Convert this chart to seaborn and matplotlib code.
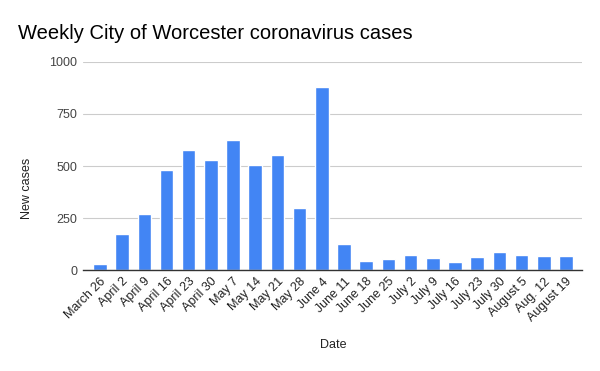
import matplotlib
matplotlib.use("Agg")
import matplotlib.pyplot as plt
import seaborn as sns
import pandas as pd

# ── Data ──────────────────────────────────────────────────────────────────────
dates = ["March 26", "April 2", "April 9", "April 16", "April 23", "April 30",
         "May 7", "May 14", "May 21", "May 28", "June 4", "June 11",
         "June 18", "June 25", "July 2", "July 9", "July 16", "July 23",
         "July 30", "August 5", "Aug. 12", "August 19"]
new_cases = [30, 175, 271, 482, 578, 530, 626, 506, 554, 300, 880, 127,
             45, 54, 74, 59, 40, 64, 88, 74, 69, 69]
y_ticks = [0, 250, 500, 750, 1000]

BLUE = "#4285f4"
GRID = "#cccccc"
TXT = "#444444"

df = pd.DataFrame({"Date": dates, "New cases": new_cases})

sns.set_style("white")
plt.rcParams["font.family"] = ["Liberation Sans", "DejaVu Sans"]

fig = plt.figure(figsize=(6, 3.71), dpi=100, facecolor="white")
ax = fig.add_axes([0.138, 0.272, 0.832, 0.561])

sns.barplot(data=df, x="Date", y="New cases", color=BLUE, width=0.61,
            saturation=1, ax=ax, zorder=3)

ax.set_xlim(-0.77, len(dates) - 0.28)
ax.set_ylim(0, 1000)
ax.set_yticks(y_ticks)
ax.set_yticklabels([str(t) for t in y_ticks], fontsize=9, color=TXT)
ax.yaxis.grid(True, color=GRID, linewidth=0.8, zorder=0)
ax.tick_params(axis="both", length=0, pad=4)
ax.set_xticks(range(len(dates)))
ax.set_xticklabels(dates, rotation=45, ha="right", rotation_mode="anchor",
                   fontsize=9, color="#222222")

for side in ["top", "right", "left"]:
    ax.spines[side].set_visible(False)
ax.spines["bottom"].set_color("#333333")
ax.spines["bottom"].set_linewidth(1)
ax.spines["bottom"].set_zorder(4)

ax.set_xlabel("")
ax.set_ylabel("")
fig.text(0.045, 0.493, "New cases", rotation=90, ha="center", va="center",
         fontsize=9, color="#222222")
fig.text(0.555, 0.07, "Date", ha="center", va="center",
         fontsize=9, color="#222222")
fig.text(0.03, 0.91, "Weekly City of Worcester coronavirus cases",
         ha="left", va="center", fontsize=14.5, color="#000000")

fig.savefig("out.png", dpi=100, facecolor="white")
plt.close()
